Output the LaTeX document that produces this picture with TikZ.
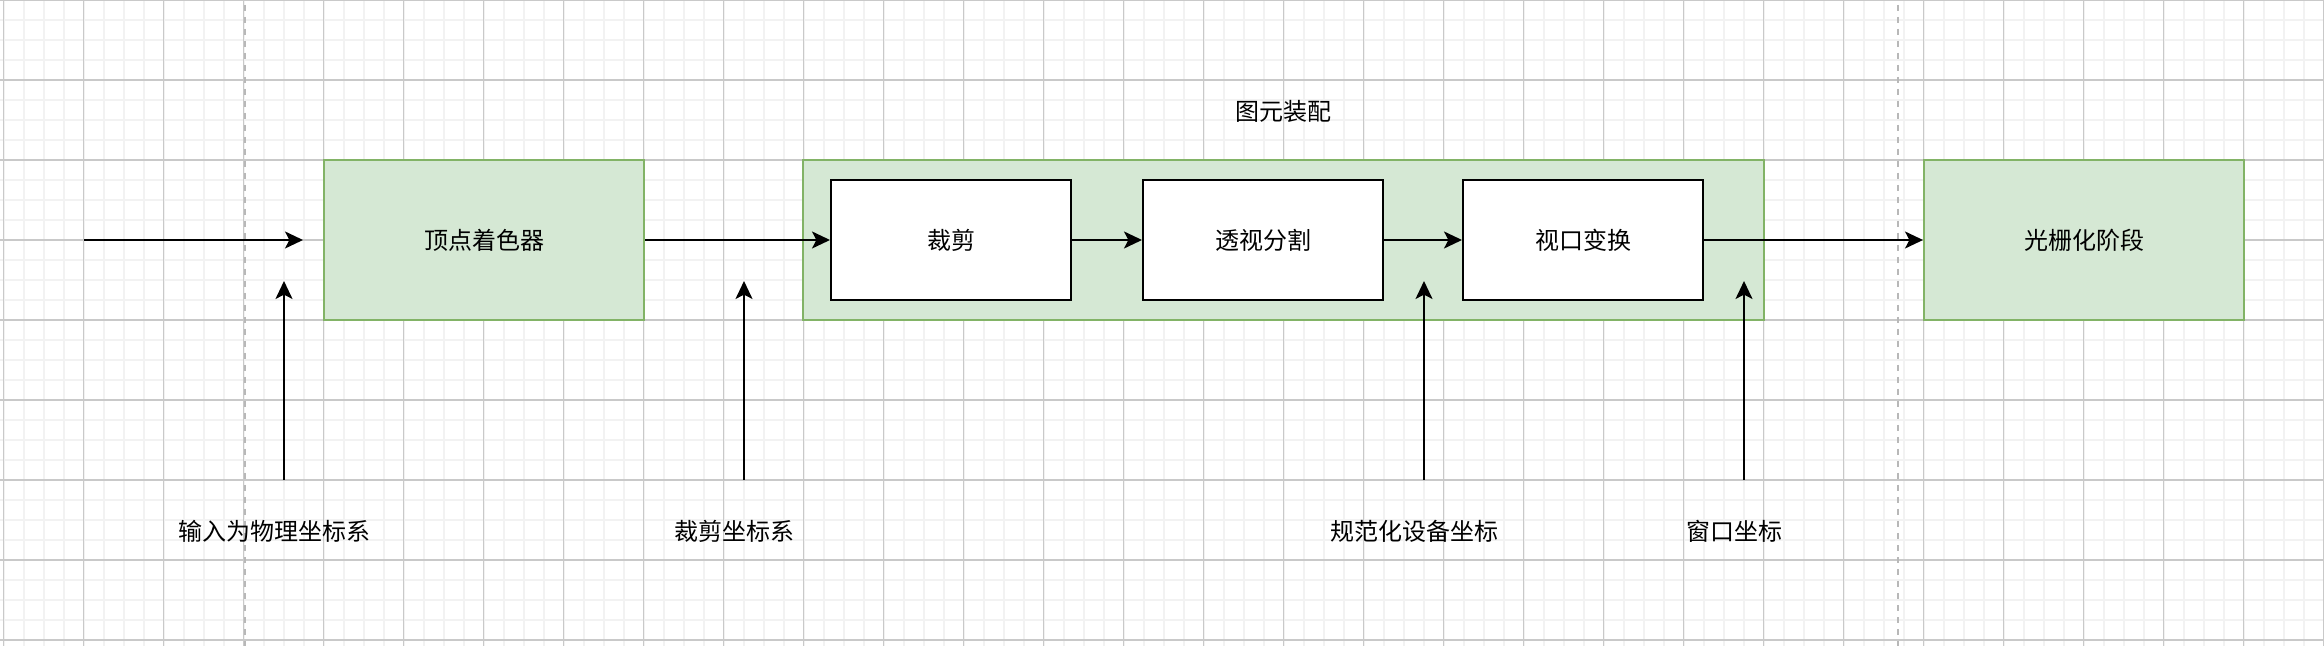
\documentclass[tikz,border=0pt]{standalone}
\usepackage{fontspec}
\newfontfamily\cjk{Noto Sans CJK SC}
\usetikzlibrary{arrows.meta}

\definecolor{gridminor}{HTML}{F2F2F2}
\definecolor{gridmajor}{HTML}{C9C9C9}
\definecolor{stagefill}{HTML}{D5E8D4}
\definecolor{stageline}{HTML}{82B366}
\definecolor{splitline}{HTML}{B8B8B8}

\tikzset{
	stage/.style={draw=stageline, fill=stagefill, line width=1pt, minimum width=160pt, minimum height=80pt},
	group/.style={draw=stageline, fill=stagefill, line width=1pt, minimum width=480.5pt, minimum height=80pt},
	substage/.style={draw=black, fill=white, line width=1pt, minimum width=120pt, minimum height=60pt},
	flow/.style={-{Stealth[length=9pt,width=8.5pt,inset=2.2pt]}, line width=1pt},
	split/.style={draw=splitline, line width=1pt, dash pattern=on 3pt off 3pt, dash phase=-2.5pt},
}

\begin{document}
\begin{tikzpicture}[x=0.5pt, y=-0.5pt, every node/.style={font=\cjk\fontsize{12}{14}\selectfont, inner sep=0pt}]

	\useasboundingbox[fill=white] (0,0) rectangle (2324,646);

	% grid
	\foreach \k in {0,...,116}
		\draw[gridminor, line width=1pt] ({3.5+20*\k},0) -- ++(0,646);
	\foreach \k in {0,...,32}
		\draw[gridminor, line width=1pt] (0,{20*\k}) -- ++(2324,0);
	\foreach \k in {0,...,29}
		\draw[gridmajor, line width=0.8pt] ({3.5+80*\k},0) -- ++(0,646);
	\foreach \k in {0,...,8}
		\draw[gridmajor, line width=0.8pt] (0,{80*\k}) -- ++(2324,0);

	\draw[split] (244.5,0) -- (244.5,646);
	\draw[split] (1898,0) -- (1898,646);

	\node[stage] (VS) at (484,240) {顶点着色器};
	\node[group] (PA) at (1283.5,240) {};
	\node (PAt) at (1283.5,111) {图元装配};
	\node[substage] (Clip) at (951,240) {裁剪};
	\node[substage] (Persp) at (1263,240) {透视分割};
	\node[substage] (Vp) at (1583,240) {视口变换};
	\node[stage] (Rast) at (2084,240) {光栅化阶段};

	\node (L1) at (274,531) {输入为物理坐标系};
	\node (L2) at (734,531) {裁剪坐标系};
	\node (L3) at (1414,531) {规范化设备坐标};
	\node (L4) at (1734,531) {窗口坐标};

	\coordinate (in) at (84,240);
	\coordinate (U1a) at (284,480); \coordinate (U1b) at (284,281);
	\coordinate (U2a) at (744,480); \coordinate (U2b) at (744,281);
	\coordinate (U3a) at (1424,480); \coordinate (U3b) at (1424,281);
	\coordinate (U4a) at (1744,480); \coordinate (U4b) at (1744,281);

	\draw[flow, shorten >=10pt] (in) -- (VS.west);
	\draw[flow] (VS.east) -- (Clip.west);
	\draw[flow] (Clip.east) -- (Persp.west);
	\draw[flow] (Persp.east) -- (Vp.west);
	\draw[flow] (Vp.east) -- (Rast.west);

	\draw[flow] (U1a) -- (U1b);
	\draw[flow] (U2a) -- (U2b);
	\draw[flow] (U3a) -- (U3b);
	\draw[flow] (U4a) -- (U4b);

\end{tikzpicture}
\end{document}
